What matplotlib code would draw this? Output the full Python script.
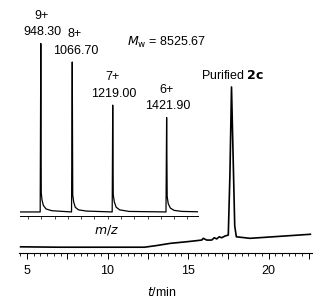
import matplotlib.pyplot as plt
from matplotlib.ticker import MultipleLocator, FuncFormatter

plt.rcParams['font.family'] = ['Liberation Sans', 'DejaVu Sans']

# GPC trace (retention time in min, detector signal in a.u.)
gpc_t = [4.6, 7.0, 12.3, 13.0, 13.9, 15.0, 15.85, 15.95, 16.16, 16.47, 16.63, 16.78,
         16.94, 17.09, 17.3, 17.5, 17.6, 17.7, 17.8, 17.9, 18.0, 18.85, 22.6]
gpc_y = [3.2, 3.0, 3.0, 3.8, 5.0, 5.9, 6.7, 7.6, 6.7, 6.7, 7.9, 7.3,
         8.4, 7.9, 8.8, 9.3, 40.0, 86.0, 50.0, 14.0, 8.4, 7.6, 9.7]

# ESI-MS inset
ms_charge = ['9+', '8+', '7+', '6+']
ms_peak_mz = [948.30, 1066.70, 1219.00, 1421.90]
ms_peak_int = [98, 87.5, 63, 56]
ms_mz = [870, 946, 948.3, 950, 953, 958, 968, 990,
         1064, 1066.7, 1068.5, 1072, 1078, 1090, 1120,
         1217, 1219.0, 1221, 1225, 1232, 1245, 1280,
         1419.5, 1421.9, 1424, 1428, 1436, 1450, 1480, 1540]
ms_int = [2.3, 2.3, 98, 13, 9, 6, 4, 3,
          2.3, 87.5, 12, 8, 5, 3.5, 2.8,
          2.3, 63, 12, 8, 5, 3.5, 2.6,
          2.3, 56, 11, 7, 4.5, 3.2, 2.6, 2.4]

W, H = 326, 305
fig = plt.figure(figsize=(W / 100, H / 100), dpi=100)

# main chromatogram
ax = fig.add_axes([19 / W, 1 - 253 / H, 293 / W, 193 / H])
ax.plot(gpc_t, gpc_y, color='black', lw=1.2)
ax.set_xlim(4.5, 22.7)
ax.set_ylim(0, 100)
for s in ['left', 'right', 'top']:
    ax.spines[s].set_visible(False)
ax.spines['bottom'].set_linewidth(0.8)
ax.set_yticks([])
ax.xaxis.set_major_locator(MultipleLocator(2.5))
ax.xaxis.set_major_formatter(FuncFormatter(lambda v, p: f'{v:.0f}' if v % 5 == 0 else ''))
ax.xaxis.set_minor_locator(MultipleLocator(2.5 / 6))
ax.tick_params(axis='x', which='major', length=4, width=0.7, pad=5, labelsize=9)
ax.tick_params(axis='x', which='minor', length=2.5, width=0.6)
ax.patch.set_alpha(0)

# MS inset
axi = fig.add_axes([20 / W, 1 - 216 / H, 178 / W, 176 / H])
axi.plot(ms_mz, ms_int, color='black', lw=0.9)
axi.set_xlim(870, 1540)
axi.set_ylim(0, 100)
for s in ['left', 'right', 'top']:
    axi.spines[s].set_visible(False)
axi.spines['bottom'].set_linewidth(0.7)
axi.set_yticks([])
axi.set_xticks([])
axi.xaxis.set_minor_locator(MultipleLocator(50))
axi.tick_params(axis='x', which='minor', length=2, width=0.5)
axi.patch.set_alpha(0)

dx = [1.5, 2.5, 1.0, 1.0]
for c, mz, top, d in zip(ms_charge, ms_peak_mz, ms_peak_int, dx):
    axi.annotate(f'{mz:.2f}', (mz, top), xytext=(d, 8), textcoords='offset points',
                 ha='center', va='center', fontsize=9)
    axi.annotate(c, (mz, top), xytext=(d - 0.8, 20), textcoords='offset points',
                 ha='center', va='center', fontsize=9)

fig.text(127 / W, 1 - 42 / H, r'$\mathit{M}_{\mathrm{w}}$ = 8525.67', fontsize=9,
         ha='left', va='center', math_fontfamily='custom')
fig.text(233 / W, 1 - 75 / H, r'Purified $\mathbf{2c}$', fontsize=9,
         ha='center', va='center', math_fontfamily='custom')
fig.text(107 / W, 1 - 230 / H, r'$\mathit{m/z}$', fontsize=9,
         ha='center', va='center', math_fontfamily='custom')
fig.text(162 / W, 1 - 293 / H, r'$\mathit{t}$/min', fontsize=9,
         ha='center', va='center', math_fontfamily='custom')

fig.savefig('out.png', dpi=100)
